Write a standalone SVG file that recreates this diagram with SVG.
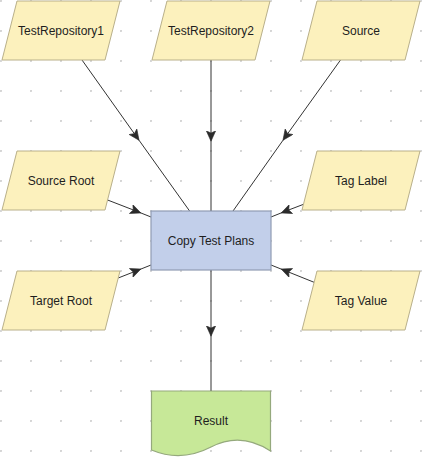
<svg xmlns="http://www.w3.org/2000/svg" width="422" height="458" viewBox="0 0 422 458">
  <style>
    .io { fill: #fcf1bd; stroke: #b9b08a; stroke-width: 1; }
    .proc { fill: #c2cfea; stroke: #909cb3; stroke-width: 1.2; }
    .doc { fill: #c7e898; stroke: #95a97d; stroke-width: 1.2; }
    .lbl { font-family: "Liberation Sans", Arial, sans-serif; font-size: 12px; fill: #1e1e1e; text-anchor: middle; }
    .edge { fill: none; stroke: #333333; stroke-width: 1; marker-mid: url(#arrow); }
  </style>
  <defs>
    <pattern id="grid" x="0" y="0" width="30" height="30" patternUnits="userSpaceOnUse">
      <circle cx="1" cy="1" r="1.1" fill="#d2d2d2"/>
    </pattern>
    <marker id="arrow" viewBox="0 0 11 10" markerWidth="11" markerHeight="10" refX="5.5" refY="5" orient="auto" markerUnits="userSpaceOnUse">
      <path d="M0.3,0.3 L10.7,5 L0.3,9.7 L2.6,5 Z" fill="#2b2b2b" stroke="#2b2b2b" stroke-width="0.6" stroke-linejoin="miter"/>
    </marker>
  </defs>
  <rect x="0" y="0" width="422" height="458" fill="#ffffff"/>
  <rect x="0" y="0" width="422" height="458" fill="url(#grid)"/>

  <g id="connectors">
    <polyline class="edge" points="82,60 136,136 189.6,211"/>
    <polyline class="edge" points="211,60 211,136 211,211"/>
    <polyline class="edge" points="340.5,60 286,136 233,211"/>
    <polyline class="edge" points="107.6,200 136,211 151,217"/>
    <polyline class="edge" points="118.2,278 136,271 151,265"/>
    <polyline class="edge" points="303,204.5 286,211 271,217"/>
    <polyline class="edge" points="314.1,282.3 286,271 271,265"/>
    <polyline class="edge" points="211,270 211,331 211,391"/>
  </g>

  <g id="testrepository1">
    <polygon class="io" points="17,1 120,1 105,60 2,60"/>
    <text class="lbl" x="61" y="35">TestRepository1</text>
  </g>
  <g id="testrepository2">
    <polygon class="io" points="167,1 270,1 255,60 152,60"/>
    <text class="lbl" x="211" y="35">TestRepository2</text>
  </g>
  <g id="source">
    <polygon class="io" points="317,1 420,1 405,60 302,60"/>
    <text class="lbl" x="361" y="35">Source</text>
  </g>
  <g id="source-root">
    <polygon class="io" points="17,151 120,151 105,210 2,210"/>
    <text class="lbl" x="61" y="185">Source Root</text>
  </g>
  <g id="tag-label">
    <polygon class="io" points="317,151 420,151 405,210 302,210"/>
    <text class="lbl" x="361" y="185">Tag Label</text>
  </g>
  <g id="target-root">
    <polygon class="io" points="17,271 120,271 105,330 2,330"/>
    <text class="lbl" x="61" y="305">Target Root</text>
  </g>
  <g id="tag-value">
    <polygon class="io" points="317,271 420,271 405,330 302,330"/>
    <text class="lbl" x="361" y="305">Tag Value</text>
  </g>
  <g id="copy-test-plans">
    <rect class="proc" x="151" y="211" width="120" height="59"/>
    <text class="lbl" x="211" y="245">Copy Test Plans</text>
  </g>
  <g id="result">
    <path class="doc" d="M151.5,391 H270.5 V451 Q240.75,431.5 211,447 Q181.25,462.5 151.5,450 Z"/>
    <text class="lbl" x="211" y="425">Result</text>
  </g>
</svg>
